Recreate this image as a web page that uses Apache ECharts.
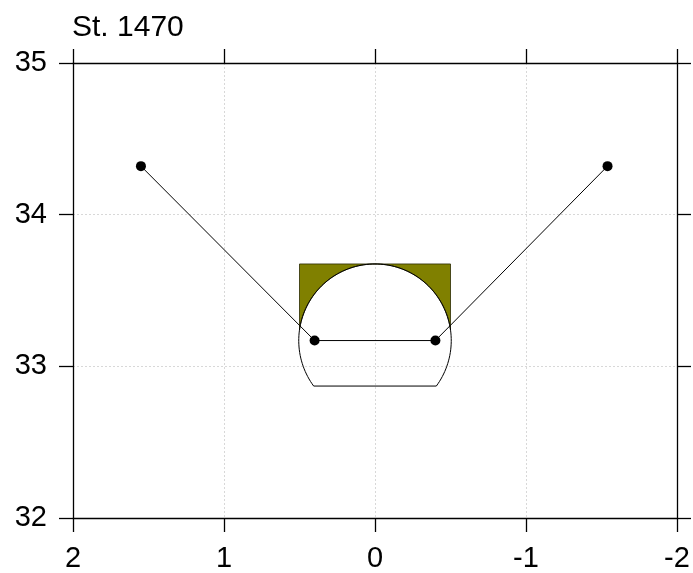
<!DOCTYPE html>
<html>
<head>
<meta charset="utf-8">
<script src="https://cdn.jsdelivr.net/npm/echarts@6/dist/echarts.min.js"></script>
<style>
html, body { margin: 0; padding: 0; background: #fff; }
#chart { width: 693px; height: 573px; }
</style>
</head>
<body>
<div id="chart"></div>
<script>
var stationName = 'St. 1470';
var xRange = [-2, 2];
var yRange = [32, 35];
// sounding line: outer anchor -> inner point -> inner point -> outer anchor
var lineX = [1.55, 0.40, -0.40, -1.54];
var lineY = [34.32, 33.17, 33.17, 34.32];
// tunnel section
var tunnelCenter = [0, 33.17];
var tunnelRadius = [0.505];
var tunnelFloor = [32.87];
var boxX = [0.5, -0.5];
var boxTop = [33.675];

var font = "'Liberation Sans', Arial, sans-serif";
var chart = echarts.init(document.getElementById('chart'));

var linePts = [];
for (var i = 0; i < lineX.length; i++) {
    linePts.push([lineX[i], lineY[i]]);
}

// olive fill between box and arch, plus the tunnel outline
function tunnelItem(params, api) {
    var cx = api.value(0), cy = api.value(1), r = tunnelRadius[0];
    var kids = [];
    boxX.forEach(function (bx) {
        var s = bx >= cx ? 1 : -1;
        var a0 = Math.acos(Math.min(Math.abs(bx - cx) / r, 1));
        var pts = [api.coord([bx, boxTop[0]]), api.coord([bx, cy + r * Math.sin(a0)])];
        var n = 40;
        for (var k = 0; k <= n; k++) {
            var a = a0 + (Math.PI / 2 - a0) * k / n;
            pts.push(api.coord([cx + s * r * Math.cos(a), cy + r * Math.sin(a)]));
        }
        kids.push({
            type: 'polygon',
            shape: { points: pts },
            style: { fill: '#808000', stroke: '#2a2a00', lineWidth: 0.8 }
        });
    });
    var aF = Math.asin((tunnelFloor[0] - cy) / r);
    var outline = [];
    var m = 120;
    for (var j = 0; j <= m; j++) {
        var b = aF + (Math.PI - 2 * aF) * j / m;
        outline.push(api.coord([cx + r * Math.cos(b), cy + r * Math.sin(b)]));
    }
    kids.push({
        type: 'polygon',
        shape: { points: outline },
        style: { fill: 'none', stroke: '#000', lineWidth: 1 }
    });
    return { type: 'group', children: kids };
}

var tickStyle = { show: true, inside: false, length: 14, lineStyle: { color: '#000', width: 1.3 } };
var lineSty = { show: true, onZero: false, lineStyle: { color: '#000', width: 1.3 } };
var gridLine = { show: true, lineStyle: { color: '#cfcfcf', width: 0.8, type: [2, 2] } };

chart.setOption({
    animation: false,
    title: {
        text: stationName,
        left: 72,
        top: 13,
        padding: 0,
        textStyle: { fontFamily: font, fontSize: 30, fontWeight: 'normal', color: '#000' }
    },
    grid: { left: 73, right: 16, top: 63, bottom: 55 },
    xAxis: [{
        type: 'value', position: 'bottom', inverse: true,
        min: xRange[0], max: xRange[1], interval: 1,
        axisLine: lineSty, axisTick: tickStyle, splitLine: gridLine,
        axisLabel: { margin: 26, fontFamily: font, fontSize: 29, color: '#000' }
    }, {
        type: 'value', position: 'top', inverse: true,
        min: xRange[0], max: xRange[1], interval: 1,
        axisLine: lineSty, axisTick: tickStyle, splitLine: { show: false },
        axisLabel: { show: false }
    }],
    yAxis: [{
        type: 'value', position: 'left',
        min: yRange[0], max: yRange[1], interval: 1,
        axisLine: lineSty, axisTick: tickStyle, splitLine: gridLine,
        axisLabel: { margin: 26, fontFamily: font, fontSize: 29, color: '#000' }
    }, {
        type: 'value', position: 'right',
        min: yRange[0], max: yRange[1], interval: 1,
        axisLine: lineSty, axisTick: tickStyle, splitLine: { show: false },
        axisLabel: { show: false }
    }],
    series: [{
        type: 'custom',
        xAxisIndex: 0, yAxisIndex: 0,
        renderItem: tunnelItem,
        data: [[tunnelCenter[0], tunnelCenter[1]]],
        z: 2
    }, {
        type: 'line',
        xAxisIndex: 0, yAxisIndex: 0,
        data: linePts,
        symbol: 'circle',
        symbolSize: 10,
        showAllSymbol: true,
        itemStyle: { color: '#000' },
        lineStyle: { color: '#000', width: 1 },
        z: 3
    }]
});
</script>
</body>
</html>
